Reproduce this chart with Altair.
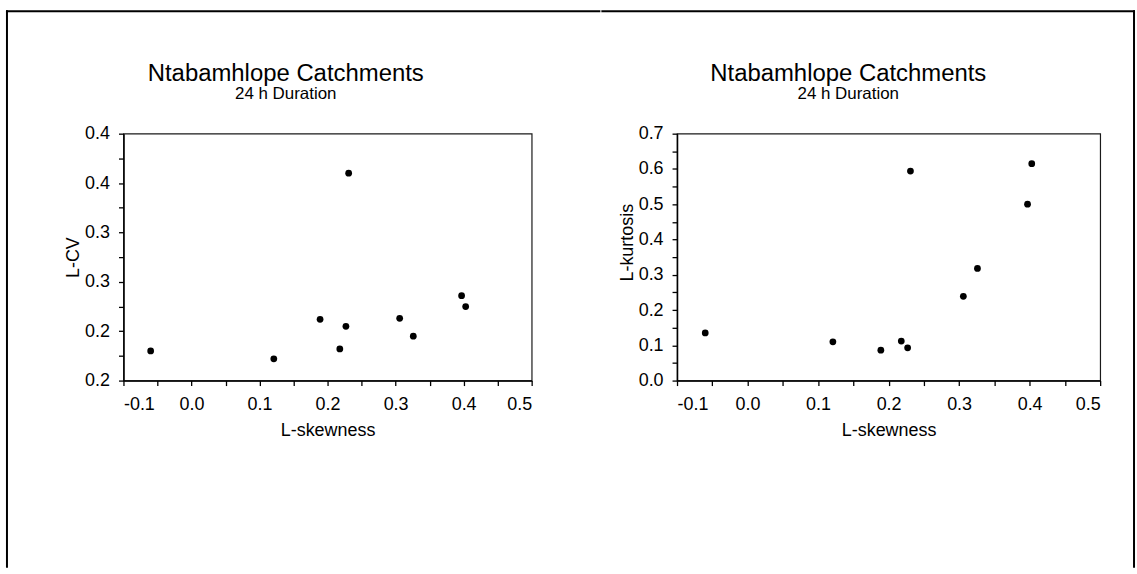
import altair as alt
import pandas as pd

# L-moment ratios of the Ntabamhlope catchments, 24 h duration
l_skewness = [-0.060, 0.121, 0.189, 0.218, 0.227, 0.231, 0.306, 0.326, 0.397, 0.403]
l_cv = [0.180, 0.172, 0.212, 0.182, 0.205, 0.360, 0.213, 0.195, 0.236, 0.225]
l_kurtosis = [0.135, 0.110, 0.086, 0.112, 0.093, 0.594, 0.239, 0.318, 0.500, 0.615]

title_text = "Ntabamhlope Catchments"
subtitle_text = "24 h Duration"

# axis ticks (every other tick carries a label)
x_ticks = [-0.1, -0.05, 0.0, 0.05, 0.1, 0.15, 0.2, 0.25, 0.3, 0.35, 0.4, 0.45, 0.5]
x_tick_labels = ["-0.1", "0.0", "0.1", "0.2", "0.3", "0.4", "0.5"]
cv_ticks = [0.15, 0.175, 0.2, 0.225, 0.25, 0.275, 0.3, 0.325, 0.35, 0.375, 0.4]
cv_tick_labels = ["0.2", "0.2", "0.3", "0.3", "0.4", "0.4"]
kurt_ticks = [0.0, 0.05, 0.1, 0.15, 0.2, 0.25, 0.3, 0.35, 0.4, 0.45, 0.5, 0.55, 0.6, 0.65, 0.7]
kurt_tick_labels = ["0.0", "0.1", "0.2", "0.3", "0.4", "0.5", "0.6", "0.7"]

FONT = "Liberation Sans"
PLOT_H = 248

df = pd.DataFrame({"skew": l_skewness, "lcv": l_cv, "lkurt": l_kurtosis})
one = pd.DataFrame({"k": [0]})


def label_expr(ticks, labels):
    full = [labels[i // 2] if i % 2 == 0 else "" for i in range(len(ticks))]
    arr = "[" + ",".join("'" + s + "'" for s in full) + "]"
    step = round(ticks[1] - ticks[0], 6)
    return f"{arr}[round((datum.value - ({ticks[0]})) / {step})]"


def rule(**enc):
    return alt.Chart(one).mark_rule(color="black", strokeWidth=2, strokeCap="square").encode(
        **{k: alt.value(v) for k, v in enc.items()}
    )


def text(label, size, x, y):
    return alt.Chart(one).mark_text(
        text=label, font=FONT, fontSize=size, color="black",
        align="center", baseline="alphabetic",
    ).encode(x=alt.value(x), y=alt.value(y))


def panel(field, y_title, y_domain, y_ticks, y_labels, width, title_x, ytitle_x, ytitle_y, frame):
    points = alt.Chart(df).mark_point(
        filled=True, shape="circle", size=46, color="black", opacity=1
    ).encode(
        x=alt.X("skew:Q",
                scale=alt.Scale(domain=[-0.1, 0.5], nice=False, zero=False),
                axis=alt.Axis(values=x_ticks, labelExpr=label_expr(x_ticks, x_tick_labels),
                              title="L-skewness", labelPadding=10, titlePadding=8)),
        y=alt.Y(f"{field}:Q",
                scale=alt.Scale(domain=y_domain, nice=False, zero=False),
                axis=alt.Axis(values=y_ticks, labelExpr=label_expr(y_ticks, y_labels),
                              title=y_title, labelPadding=9, titleX=ytitle_x, titleY=ytitle_y,
                              titleBaseline="alphabetic", titleAlign="center")),
    )
    titles = text(title_text, 24, title_x, -53) + text(subtitle_text, 17, title_x, -35)
    return alt.layer(points, titles, *frame).properties(width=width, height=PLOT_H)


left = panel("lcv", "L-CV", [0.15, 0.40], cv_ticks, cv_tick_labels, 410, 163, -45, PLOT_H / 2,
             [rule(x=-117, y=-123, y2=435), rule(x=-117, x2=478, y=-123)])
right = panel("lkurt", "L-kurtosis", [0.0, 0.7], kurt_ticks, kurt_tick_labels, 425, 172, -45,
              PLOT_H / 2 - 15,
              [rule(x=-75, x2=459, y=-123), rule(x=459, y=-123, y2=435)])

chart = alt.hconcat(left, right, spacing=-3).properties(
    padding={"left": 4, "top": 7, "right": 0, "bottom": 0},
    background="white",
).configure_view(
    stroke="#1a1a1a", strokeWidth=1.2
).configure_axis(
    domainColor="black", domainWidth=1.5, tickColor="black", tickWidth=1.3, tickSize=5,
    labelFont=FONT, labelFontSize=18, labelColor="black", labelOverlap=False,
    titleFont=FONT, titleFontSize=18, titleFontWeight="normal", titleColor="black",
    grid=False,
)

chart.save("out.html", embed_options={"renderer": "svg", "actions": False})
